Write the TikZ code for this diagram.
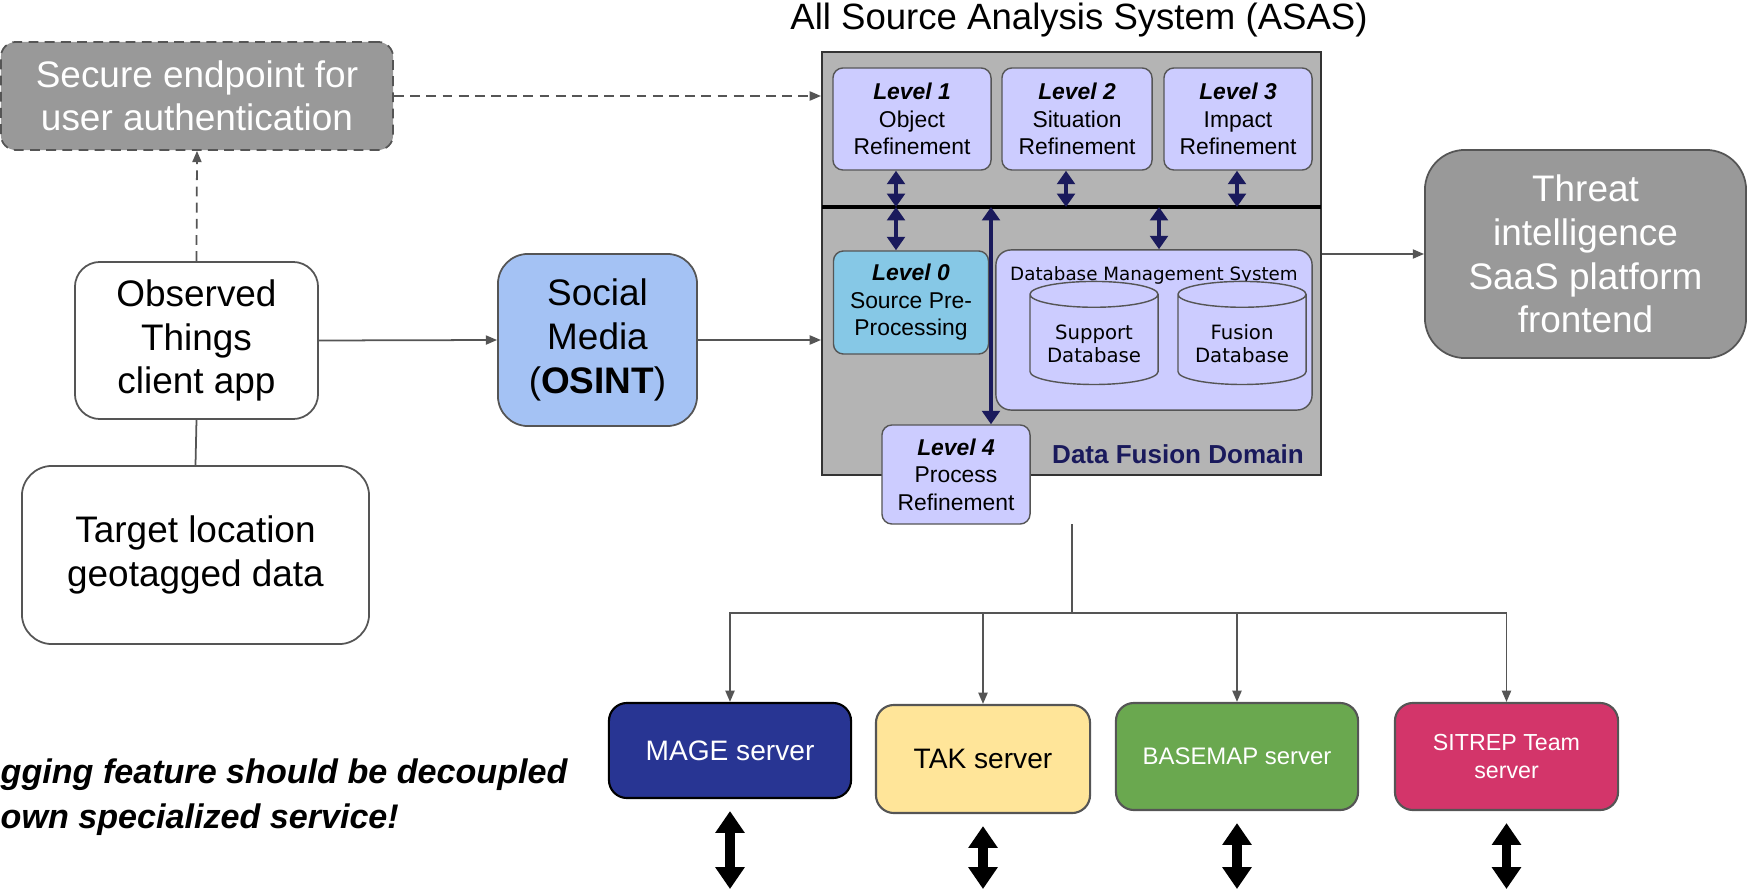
\documentclass[tikz,border=0pt]{standalone}
\usepackage{fontspec}
\setmainfont{Liberation Sans}
\newfontfamily\dbfont{DejaVu Sans}
\usetikzlibrary{arrows.meta,shapes.geometric,calc}

\definecolor{panelgray}{HTML}{B4B4B4}
\definecolor{boxgray}{HTML}{999999}
\definecolor{edgegray}{HTML}{555555}
\definecolor{lavender}{HTML}{CCCCFF}
\definecolor{skyblue}{HTML}{86C8E6}
\definecolor{navyline}{HTML}{1A1A5C}
\definecolor{osintblue}{HTML}{A4C2F4}
\definecolor{magenavy}{HTML}{283593}
\definecolor{takyellow}{HTML}{FFE599}
\definecolor{mapgreen}{HTML}{6AA84F}
\definecolor{sitreprose}{HTML}{D3356A}

\begin{document}
\begin{tikzpicture}[x=0.01cm, y=-0.01cm,
        bigfont/.style={font=\fontsize{10.5pt}{12.4pt}\selectfont},
        box/.style={draw=edgegray, line width=0.5pt, rounded corners=0.25cm, align=center, bigfont},
        levelbox/.style={draw=edgegray, fill=lavender, rounded corners=0.1cm, align=center, line width=0.4pt,
            inner sep=0pt, font=\fontsize{6.5pt}{7.8pt}\selectfont},
        server/.style={draw=edgegray, rounded corners=0.18cm, align=center, line width=0.6pt,
            font=\fontsize{8pt}{9.6pt}\selectfont},
        flow/.style={draw=edgegray, line width=0.5pt, -{Triangle[length=3.2pt,width=2.6pt]}},
        dashflow/.style={flow, dash pattern=on 2.8pt off 1.8pt},
        navyarrow/.style={draw=navyline, line width=1.1pt,
            {Triangle[length=3.8pt,width=5pt]}-{Triangle[length=3.8pt,width=5pt]}},
        bigarrow/.style={draw=black, line width=2.6pt,
            {Triangle[length=6.2pt,width=8pt]}-{Triangle[length=6.2pt,width=8pt]}},
        cyl/.style={cylinder, shape border rotate=90, aspect=0.22, draw=edgegray, fill=lavender, align=center,
            font=\dbfont\fontsize{5.6pt}{6.6pt}\selectfont},
    ]

    \useasboundingbox (0,0) rectangle (1748,891);

    % client side
    \node[box, fill=boxgray, text=white, rounded corners=0.15cm, dash pattern=on 2.8pt off 1.8pt,
        minimum width=3.92cm, minimum height=1.08cm] (secure) at (197,96) {Secure endpoint for\\user authentication};
    \node[box, fill=white, minimum width=2.43cm, minimum height=1.57cm] (observed) at (196.5,340.5) {Observed\\Things\\client app};
    \node[box, fill=white, rounded corners=0.3cm, minimum width=3.47cm, minimum height=1.78cm] (target) at (195.5,555) {Target location\\geotagged data};
    \node[box, fill=osintblue, rounded corners=0.3cm, minimum width=1.99cm, minimum height=1.72cm] (social) at (597.5,340) {Social\\Media\\(\textbf{OSINT})};

    % ASAS panel
    \node[font=\fontsize{10.4pt}{12pt}\selectfont, inner sep=0pt] (asastitle) at (1079,20) {All Source Analysis System (ASAS)};
    \node[draw=black!80, fill=panelgray, line width=0.5pt, minimum width=4.99cm, minimum height=4.23cm, inner sep=0pt] (asas) at (1071.5,263.5) {};
    \coordinate (busL) at (822,207);
    \coordinate (busR) at (1321,207);
    \draw[line width=0.9pt] (busL) -- (busR);

    \node[levelbox, minimum width=1.58cm, minimum height=1.02cm] (lvl1) at (912,119) {\textbf{\textit{Level 1}}\\Object\\Refinement};
    \node[levelbox, minimum width=1.50cm, minimum height=1.02cm] (lvl2) at (1077,119) {\textbf{\textit{Level 2}}\\Situation\\Refinement};
    \node[levelbox, minimum width=1.48cm, minimum height=1.02cm] (lvl3) at (1238,119) {\textbf{\textit{Level 3}}\\Impact\\Refinement};
    \node[levelbox, fill=skyblue, minimum width=1.55cm, minimum height=1.03cm] (lvl0) at (911,302.5) {\textbf{\textit{Level 0}}\\Source Pre-\\Processing};
    \node[levelbox, rounded corners=0.15cm, minimum width=3.16cm, minimum height=1.6cm] (dbms) at (1154,330) {};
    \node[font=\dbfont\fontsize{5.2pt}{6.4pt}\selectfont, inner sep=0pt] (dbmstitle) at (1154,275) {Database Management System};
    \node[cyl, minimum width=1.28cm, minimum height=1.03cm] (supportdb) at (1094,343.5) {Support\\Database};
    \node[cyl, minimum width=1.28cm, minimum height=1.03cm] (fusiondb) at (1242,343.5) {Fusion\\Database};
    \node[levelbox, minimum width=1.48cm, minimum height=0.99cm] (lvl4) at (956,474.5) {\textbf{\textit{Level 4}}\\Process\\Refinement};
    \node[font=\bfseries\fontsize{7.4pt}{8.8pt}\selectfont, text=navyline, inner sep=0pt] (domain) at (1178,454) {Data Fusion Domain};

    \foreach \n/\dx in {lvl1/-16, lvl2/-11, lvl3/-1}
        \draw[navyarrow] ($(\n.south)+(\dx,0)$) -- ($(\n.south |- busL)+(\dx,0)$);
    \foreach \n/\dx in {lvl0/-15, dbms/5, lvl4/35}
        \draw[navyarrow] ($(\n.north)+(\dx,0)$) -- ($(\n.north |- busL)+(\dx,0)$);

    % frontend
    \node[box, fill=boxgray, text=white, rounded corners=0.4cm, minimum width=3.21cm, minimum height=2.08cm] (threat) at (1585.5,254) {Threat\\intelligence\\SaaS platform\\frontend};

    % servers
    \node[server, fill=magenavy, text=white, draw=black, minimum width=2.42cm, minimum height=0.95cm] (mage) at (730,750.5) {MAGE server};
    \node[server, fill=takyellow, minimum width=2.14cm, minimum height=1.08cm] (tak) at (983,759) {TAK server};
    \node[server, fill=mapgreen, text=white, font=\fontsize{6.8pt}{8pt}\selectfont, minimum width=2.42cm, minimum height=1.07cm] (basemap) at (1237,756.5) {BASEMAP server};
    \node[server, fill=sitreprose, text=white, font=\fontsize{6.6pt}{8pt}\selectfont, minimum width=2.23cm, minimum height=1.07cm] (sitrep) at (1506.5,756.5) {SITREP Team\\server};

    \node[anchor=west, align=left, inner sep=0pt, font=\bfseries\itshape\fontsize{9.7pt}{12.8pt}\selectfont] (note) at (0,797.5) {gging feature should be decoupled\\own specialized service!};

    % connectors
    \draw[dashflow] (observed.north) -- (secure.south);
    \draw[dashflow] (secure.east) -- (secure.east -| asas.west);
    \draw[draw=edgegray, line width=0.5pt] (observed.south) -- (target.north);
    \draw[flow] (observed.east) -- (social.west);
    \draw[flow] (social.east) -- (social.east -| asas.west);
    \draw[flow] (asas.east |- threat.west) -- (threat.west);

    \coordinate (feed) at (1072,524);
    \coordinate (fork) at (1072,613);
    \draw[draw=edgegray, line width=0.5pt] (feed) -- (fork);
    \foreach \s in {mage,tak,basemap,sitrep}
        \draw[flow] (fork) -| (\s.north);

    \foreach \s in {mage,tak,basemap,sitrep} {
        \coordinate (\s-end) at (\s.south |- 0,889);
        \draw[bigarrow] ($(\s.south)+(0,12)$) -- (\s-end);
    }
\end{tikzpicture}
\end{document}
